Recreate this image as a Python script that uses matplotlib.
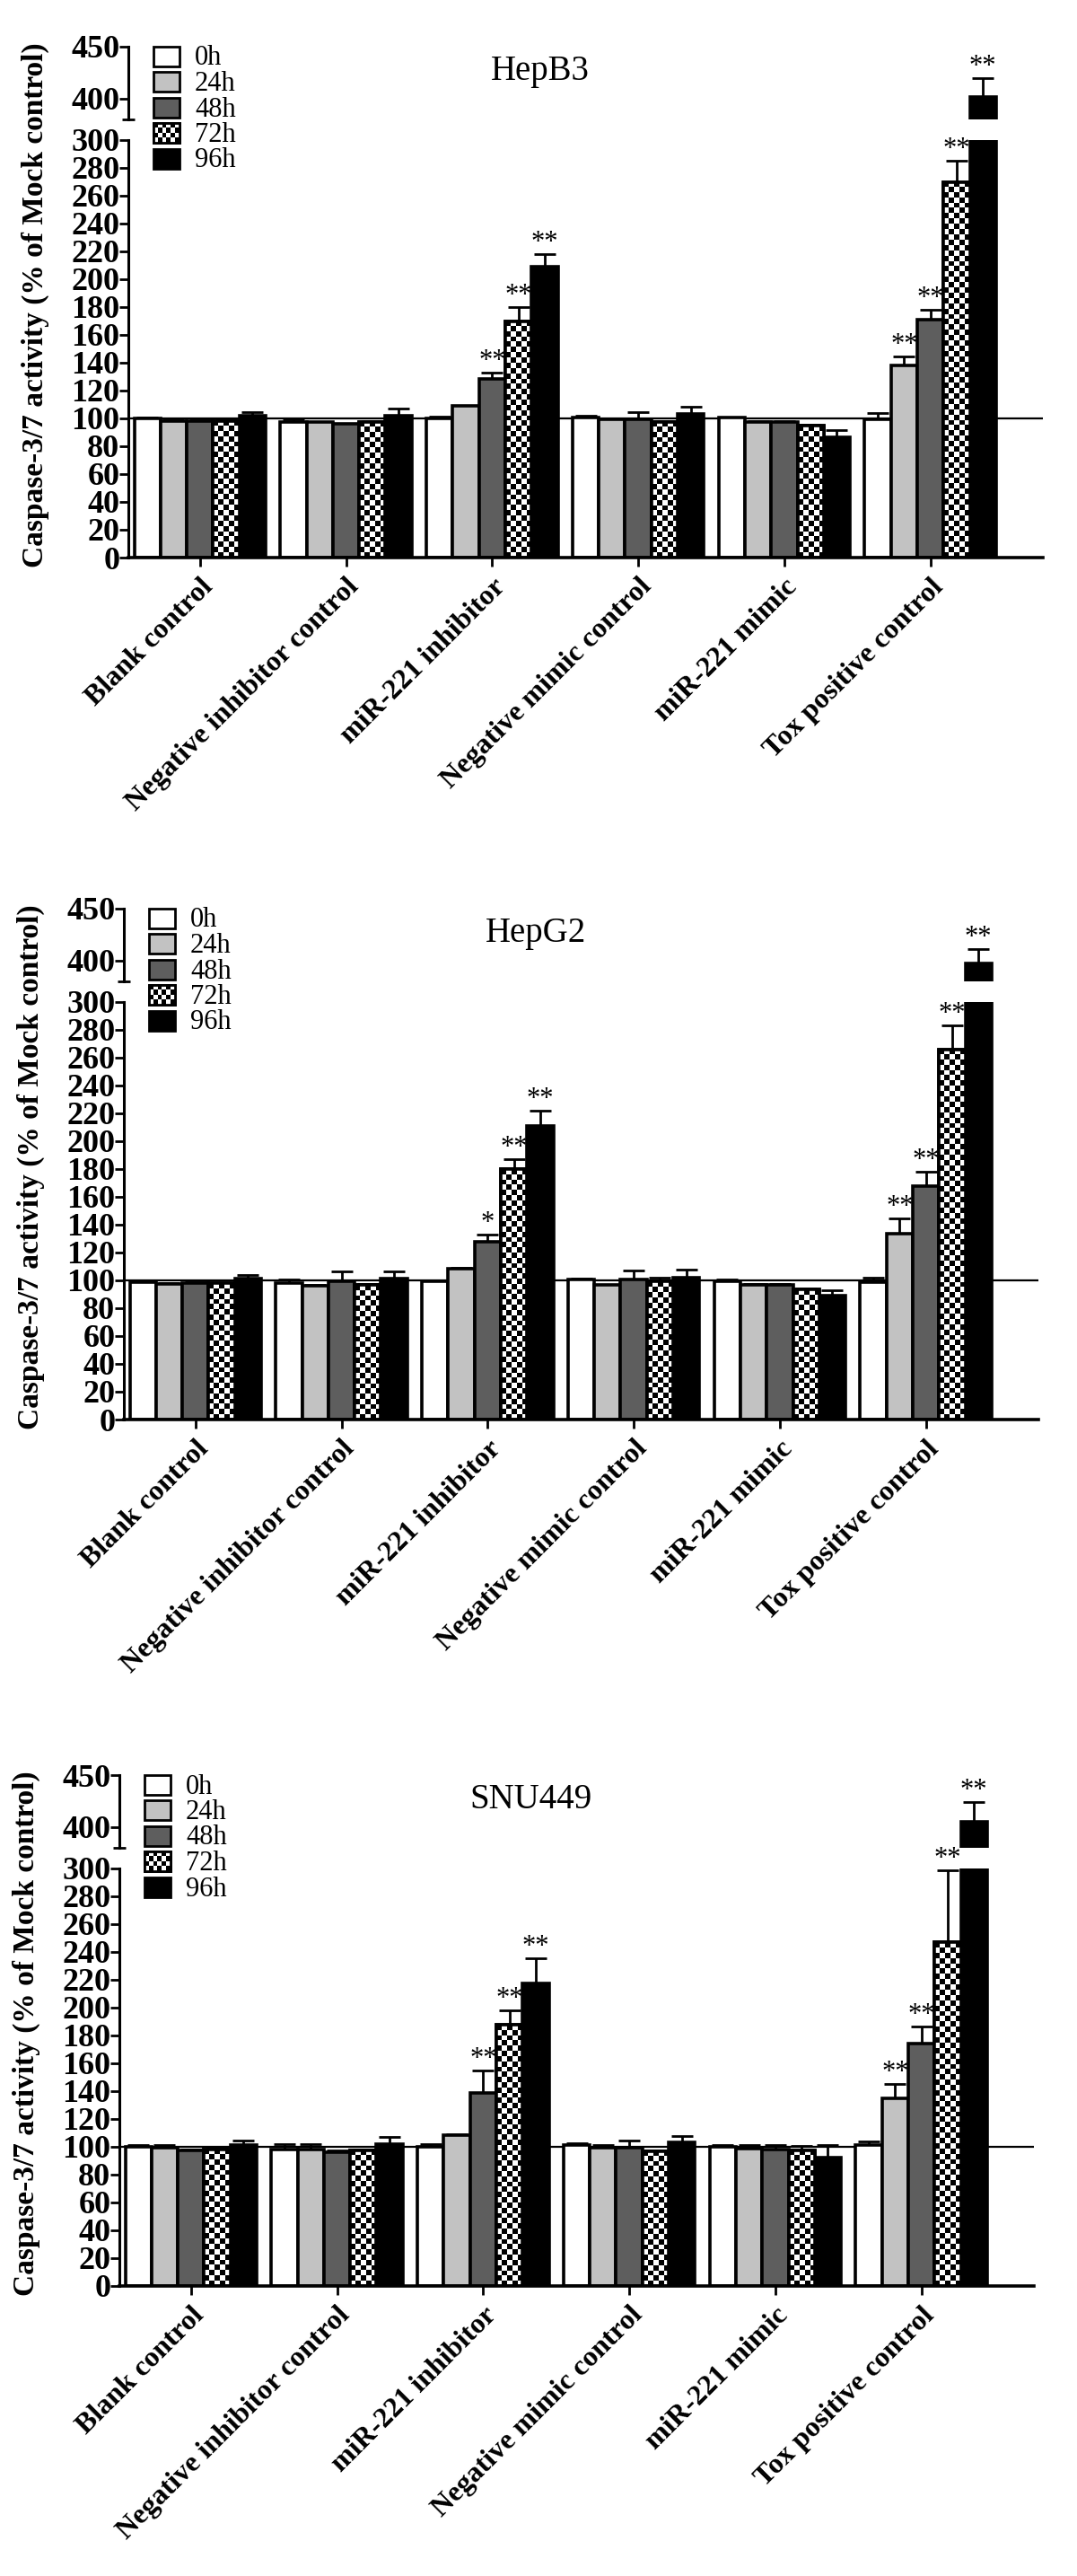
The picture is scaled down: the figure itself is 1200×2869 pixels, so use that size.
import numpy as np
import matplotlib
matplotlib.use("Agg")
import matplotlib.pyplot as plt
from matplotlib.patches import Rectangle

plt.rcParams['font.family'] = ['Liberation Serif', 'DejaVu Serif']

groups = ["Blank control", "Negative inhibitor control", "miR-221 inhibitor",
          "Negative mimic control", "miR-221 mimic", "Tox positive control"]
times = ["0h", "24h", "48h", "72h", "96h"]
fills = ["white", "#c2c2c2", "#5e5e5e", "checker", "black"]

# HepB3 (mean, sem) per time point, one value per group
hepb3_mean = [
    [100.0, 97.6, 100.0, 100.8, 100.3, 99.5],
    [98.0, 97.0, 108.7, 99.0, 97.6, 137.6],
    [98.0, 96.0, 128.0, 99.5, 97.6, 170.8],
    [98.0, 97.5, 169.5, 97.6, 94.5, 269.5],
    [102.0, 102.0, 209.0, 103.4, 86.6, 402.0],
]
hepb3_err = [
    [0.5, 1.5, 1.0, 1.0, 0.5, 4.0],
    [0.3, 0.5, 0.5, 0.3, 0.3, 7.0],
    [0.3, 0.3, 5.0, 5.0, 0.3, 7.0],
    [0.3, 0.3, 10.5, 0.5, 1.0, 15.5],
    [2.5, 5.0, 9.0, 4.7, 5.0, 18.0],
]
hepb3_sig = [
    ["", "", "", "", "", ""],
    ["", "", "", "", "", "**"],
    ["", "", "**", "", "", "**"],
    ["", "", "**", "", "", "**"],
    ["", "", "**", "", "", "**"],
]

# HepG2
hepg2_mean = [
    [98.7, 97.9, 99.2, 100.5, 99.2, 98.4],
    [97.4, 96.0, 108.4, 96.6, 96.6, 133.4],
    [97.9, 99.2, 127.4, 100.5, 96.6, 167.6],
    [97.9, 96.6, 179.5, 99.2, 93.4, 265.8],
    [101.0, 101.0, 211.0, 101.8, 89.2, 397.0],
]
hepg2_err = [
    [1.5, 2.6, 1.0, 0.5, 1.3, 3.4],
    [0.3, 0.5, 0.8, 0.3, 0.5, 11.0],
    [0.5, 7.0, 5.2, 6.5, 0.5, 10.0],
    [0.3, 0.5, 7.3, 2.6, 1.0, 17.0],
    [2.7, 5.3, 10.5, 5.8, 3.4, 14.0],
]
hepg2_sig = [
    ["", "", "", "", "", ""],
    ["", "", "", "", "", "**"],
    ["", "", "*", "", "", "**"],
    ["", "", "**", "", "", "**"],
    ["", "", "**", "", "", "**"],
]

# SNU449
snu449_mean = [
    [100.0, 98.2, 100.0, 101.3, 100.0, 101.3],
    [99.5, 98.2, 108.2, 99.5, 98.7, 134.6],
    [97.4, 96.0, 138.5, 99.5, 98.2, 173.9],
    [98.0, 97.4, 187.3, 96.8, 97.4, 246.7],
    [101.3, 101.6, 216.9, 103.4, 92.1, 405.0],
]
snu449_err = [
    [1.3, 3.4, 1.6, 1.3, 1.3, 2.7],
    [1.8, 3.4, 0.5, 1.8, 2.6, 10.3],
    [0.5, 1.4, 16.4, 5.2, 3.1, 12.1],
    [0.3, 0.5, 10.6, 0.5, 3.4, 51.5],
    [2.9, 5.3, 18.5, 4.0, 9.2, 18.8],
]
snu449_sig = [
    ["", "", "", "", "", ""],
    ["", "", "", "", "", "**"],
    ["", "", "**", "", "", "**"],
    ["", "", "**", "", "", "**"],
    ["", "", "**", "", "", "**"],
]

W, H = 1200, 2869
fig = plt.figure(figsize=(W / 100, H / 100), dpi=100)


def px_rect(left, top, width, height):
    return [left / W, 1 - (top + height) / H, width / W, height / H]


def checkerboard(nrow, ncol):
    return np.indices((nrow, ncol)).sum(axis=0) % 2


def draw_panel(top, left, title, means, errs, sigs):
    width = 1019
    ax_hi = fig.add_axes(px_rect(left, top, width, 81))
    ax_lo = fig.add_axes(px_rect(left, top + 103.5, width, 465.5))
    x = np.arange(len(groups))
    bw = 0.18
    for ax, lim in ((ax_hi, (380, 450)), (ax_lo, (0, 300))):
        ax.set_xlim(-0.49, 5.77)
        ax.set_ylim(*lim)
        ax.axhline(100, color="black", lw=1.6, zorder=1)
        for i in range(5):
            xs = x + (i - 2) * bw
            m = np.array(means[i])
            e = np.array(errs[i])
            face = "white" if fills[i] == "checker" else fills[i]
            ax.errorbar(xs, m, yerr=[np.zeros_like(e), e], fmt="none",
                        ecolor="black", elinewidth=2, capsize=8.5, capthick=2,
                        zorder=1.5)
            ax.bar(xs, m, bw, color=face, edgecolor="black", lw=2.6, zorder=2)
            if fills[i] == "checker" and ax is ax_lo:
                for xc, h in zip(xs, m):
                    x0 = xc - bw / 2
                    p0 = ax.transData.transform((x0, 0))
                    p1 = ax.transData.transform((x0 + bw, h))
                    cell = (p1[0] - p0[0]) / 5
                    nrow = max(1, int(round((p1[1] - p0[1]) / cell)))
                    ax.imshow(checkerboard(nrow, 5), cmap="gray", aspect="auto",
                              extent=(x0, x0 + bw, 0, h), interpolation="nearest",
                              zorder=2.2)
                ax.bar(xs, m, bw, facecolor="none", edgecolor="black", lw=2.6,
                       zorder=2.4)
            for xc, v, ev, s in zip(xs, m, e, sigs[i]):
                if not s:
                    continue
                top_v = v + ev
                target = ax_hi if top_v > 300 else ax_lo
                if ax is target:
                    ax.annotate(s, xy=(xc, top_v), xytext=(0, 9),
                                textcoords="offset points", ha="center",
                                va="center", fontsize=22, annotation_clip=False)
        ax.set_xlim(-0.49, 5.77)
        ax.set_ylim(*lim)
        for sp in ("top", "right"):
            ax.spines[sp].set_visible(False)
        ax.spines["left"].set_linewidth(2.2)
        ax.spines["bottom"].set_linewidth(2.6)
        ax.tick_params(axis="y", direction="out", length=7, width=2,
                       labelsize=26, pad=0)

    ax_hi.spines["bottom"].set_visible(False)
    ax_hi.set_xticks([])
    ax_hi.set_yticks([400, 450])
    ax_hi.set_yticklabels(["400", "450"], fontweight="bold")
    ax_hi.set_yticks([380], minor=True)
    ax_hi.tick_params(axis="y", which="minor", direction="inout", length=10,
                      width=2)
    ax_hi.text(0.45, 0.54, title, transform=ax_hi.transAxes, fontsize=28,
               ha="center", va="baseline")

    ax_lo.set_yticks(np.arange(0, 301, 20))
    ax_lo.set_yticklabels([str(v) for v in range(0, 301, 20)], fontweight="bold")
    ax_lo.set_yticks([300], minor=True)
    ax_lo.tick_params(axis="y", which="minor", direction="in", length=5, width=2)
    ax_lo.set_xticks(x)
    ax_lo.set_xticklabels(groups, rotation=45, ha="right", va="top",
                          rotation_mode="anchor", fontsize=23, fontweight="bold")
    ax_lo.tick_params(axis="x", direction="out", length=7, width=2, pad=6)

    fig.text((left - 104) / W, 1 - (top + 288) / H,
             "Caspase-3/7 activity (% of Mock control)", rotation=90,
             ha="center", va="center", fontsize=24, fontweight="bold")

    # legend drawn by hand so the checker swatch matches the bars
    lax = fig.add_axes(px_rect(left + 26, top - 2, 130, 160))
    lax.set_xlim(0, 130)
    lax.set_ylim(160, 0)
    lax.axis("off")
    for i, (lab, fc) in enumerate(zip(times, fills)):
        y0 = i * 28.5 + 1.5
        face = "white" if fc == "checker" else fc
        lax.add_patch(Rectangle((1.5, y0), 29, 22, facecolor=face,
                                edgecolor="black", lw=2, zorder=2))
        if fc == "checker":
            lax.imshow(checkerboard(4, 6), cmap="gray", aspect="auto",
                       extent=(1.5, 30.5, y0 + 22, y0), interpolation="nearest",
                       zorder=2.2)
            lax.add_patch(Rectangle((1.5, y0), 29, 22, facecolor="none",
                                    edgecolor="black", lw=2, zorder=2.4))
        lax.text(48, y0 + 21, lab, fontsize=22, va="baseline", ha="left")
    lax.set_xlim(0, 130)
    lax.set_ylim(160, 0)


draw_panel(52, 143, "HepB3", hepb3_mean, hepb3_err, hepb3_sig)
draw_panel(1012, 138, "HepG2", hepg2_mean, hepg2_err, hepg2_sig)
draw_panel(1977, 133, "SNU449", snu449_mean, snu449_err, snu449_sig)

fig.savefig("out.png", dpi=100)
